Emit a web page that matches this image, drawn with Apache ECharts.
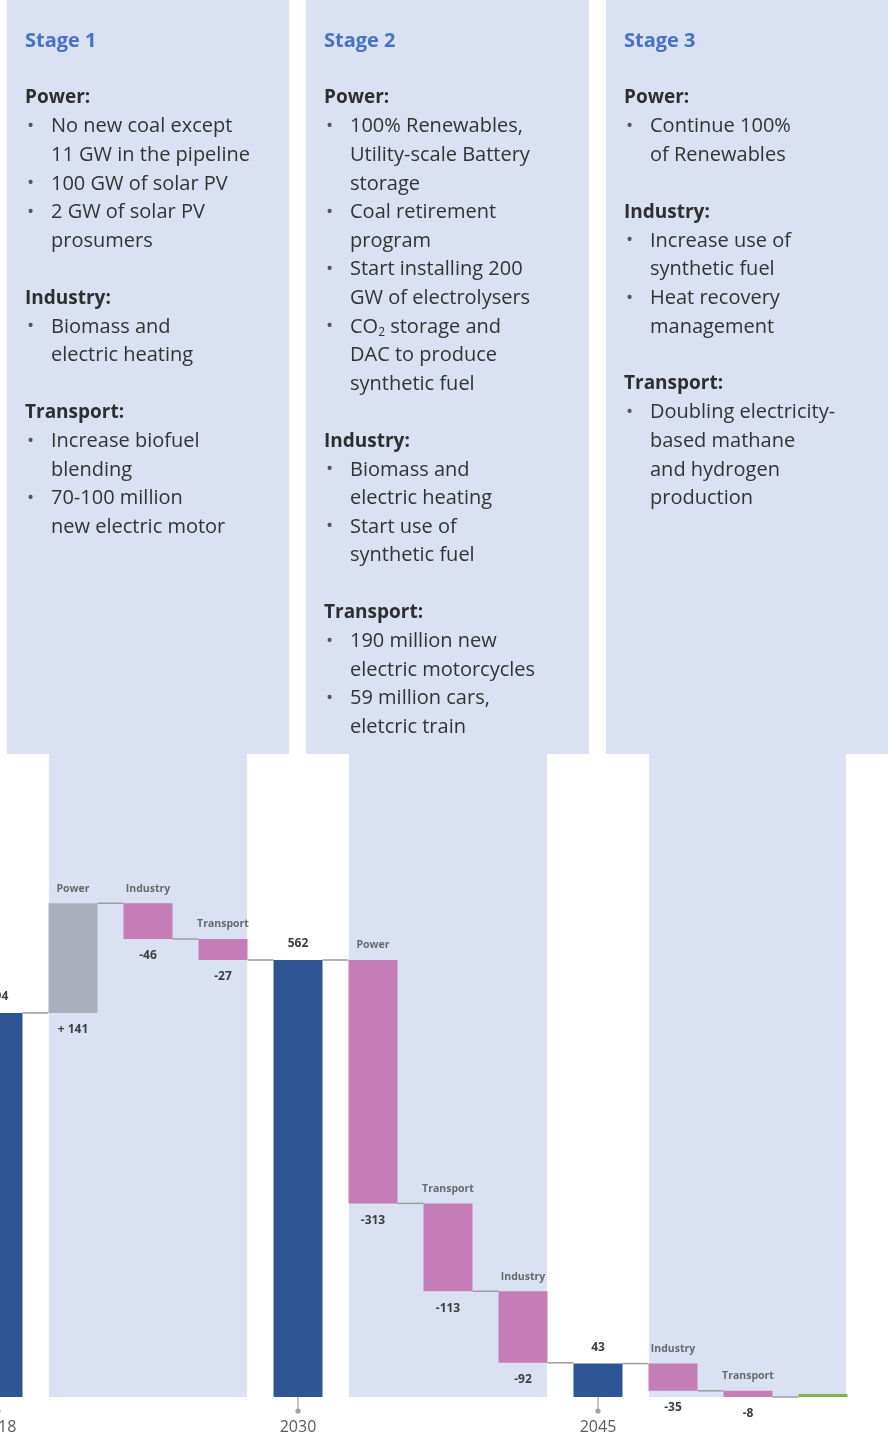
<!DOCTYPE html>
<html>
<head>
<meta charset="utf-8">
<script src="https://cdn.jsdelivr.net/npm/echarts@6/dist/echarts.min.js"></script>
<style>
  html, body { margin: 0; padding: 0; background: #ffffff; overflow: hidden; width: 889px; height: 1442px; position: relative; }
  /* the first column is cut by the left page edge, so the canvas starts left of the page */
  #chart { position: absolute; left: -40px; top: 0; width: 929px; height: 1442px; }
</style>
</head>
<body>
<div id="chart"></div>
<script>
// Emission pathway steps (waterfall): totals reset the running level, deltas move it.
const categories = ['2018', 'Power', 'Industry', 'Transport', '2030', 'Power', 'Transport', 'Industry', '2045', 'Industry', 'Transport', ''];
const stepKinds  = ['total', 'delta', 'delta', 'delta', 'total', 'delta', 'delta', 'delta', 'total', 'delta', 'delta', 'end'];
const stepValues = [494, 141, -46, -27, 562, -313, -113, -92, 43, -35, -8, 0];

// Stage descriptions: [kind, text]; kind 'h' = heading, 'b' = bullet, 'c' = continuation, '' = blank line
const stageTitles = ['Stage 1', 'Stage 2', 'Stage 3'];
const stage1Lines = [
  ['h', 'Power:'], ['b', 'No new coal except'], ['c', '11 GW in the pipeline'], ['b', '100 GW of solar PV'],
  ['b', '2 GW of solar PV'], ['c', 'prosumers'], ['', ''],
  ['h', 'Industry:'], ['b', 'Biomass and'], ['c', 'electric heating'], ['', ''],
  ['h', 'Transport:'], ['b', 'Increase biofuel'], ['c', 'blending'], ['b', '70-100 million'], ['c', 'new electric motor']
];
const stage2Lines = [
  ['h', 'Power:'], ['b', '100% Renewables,'], ['c', 'Utility-scale Battery'], ['c', 'storage'],
  ['b', 'Coal retirement'], ['c', 'program'], ['b', 'Start installing 200'], ['c', 'GW of electrolysers'],
  ['b', 'CO{sub|2} storage and'], ['c', 'DAC to produce'], ['c', 'synthetic fuel'], ['', ''],
  ['h', 'Industry:'], ['b', 'Biomass and'], ['c', 'electric heating'], ['b', 'Start use of'], ['c', 'synthetic fuel'], ['', ''],
  ['h', 'Transport:'], ['b', '190 million new'], ['c', 'electric motorcycles'], ['b', '59 million cars,'], ['c', 'eletcric train']
];
const stage3Lines = [
  ['h', 'Power:'], ['b', 'Continue 100%'], ['c', 'of Renewables'], ['', ''],
  ['h', 'Industry:'], ['b', 'Increase use of'], ['c', 'synthetic fuel'], ['b', 'Heat recovery'], ['c', 'management'], ['', ''],
  ['h', 'Transport:'], ['b', 'Doubling electricity-'], ['c', 'based mathane'], ['c', 'and hydrogen'], ['c', 'production']
];

const COLOR_TOTAL = '#2E5593';
const COLOR_UP = '#A9B0BC';
const COLOR_DOWN = '#C47DB6';
const COLOR_END = '#7AB648';
const PANEL = '#D9E1F2';
const BAR_W = 49;
const SHIFT = 40; // canvas x offset relative to the page

// Running levels for the waterfall
const baseVals = [], barVals = [], levelAfter = [], topVals = [];
let level = 0;
stepValues.forEach((v, i) => {
  const k = stepKinds[i];
  if (k === 'total') {
    baseVals.push(0); barVals.push(v); level = v; topVals.push(v);
  } else if (k === 'delta') {
    const start = level, end = level + v;
    baseVals.push(Math.min(start, end)); barVals.push(Math.abs(v)); topVals.push(Math.max(start, end)); level = end;
  } else {
    baseVals.push(0); barVals.push(0); topVals.push(0); level = 0;
  }
  levelAfter.push(level);
});

const barData = barVals.map((h, i) => {
  const k = stepKinds[i], v = stepValues[i];
  let color = COLOR_TOTAL;
  if (k === 'delta') color = v >= 0 ? COLOR_UP : COLOR_DOWN;
  const item = { value: h, itemStyle: { color: color } };
  if (k === 'total') {
    item.label = { show: true, position: 'top', distance: 10, formatter: String(v) };
  } else if (k === 'delta') {
    item.label = { show: true, position: 'bottom', distance: 11, formatter: v >= 0 ? '+ ' + v : '-' + Math.abs(v) };
  } else {
    item.label = { show: false };
  }
  return item;
});

// Step names sit just above each delta bar
const nameData = [];
categories.forEach((c, i) => {
  if (stepKinds[i] === 'delta') nameData.push({ value: [i, topVals[i]], name: c });
});

// Connector / tick / end-marker data
const linkData = categories.map((c, i) => [i, levelAfter[i], stepKinds[i] === 'total' ? 1 : 0, stepKinds[i] === 'end' ? 1 : 0]);

// Panel graphics (page coordinates, shifted into canvas coordinates)
const graphics = [];
const topPanels = [[7, 289], [306, 589], [606, 888]];
const lowPanels = [[49, 247], [349, 547], [649, 846]];
topPanels.forEach(p => graphics.push({ type: 'rect', z: 0, shape: { x: p[0] + SHIFT, y: 0, width: p[1] - p[0], height: 754 }, style: { fill: PANEL } }));
lowPanels.forEach(p => graphics.push({ type: 'rect', z: 0, shape: { x: p[0] + SHIFT, y: 750, width: p[1] - p[0], height: 647 }, style: { fill: PANEL } }));

const TEXT_FONT = '"Open Sans", "DejaVu Sans", sans-serif';
const stageBlocks = [stage1Lines, stage2Lines, stage3Lines];
stageBlocks.forEach((lines, s) => {
  const x0 = topPanels[s][0] + SHIFT;
  graphics.push({
    type: 'text', z: 1,
    style: { x: x0 + 18, y: 41, text: stageTitles[s], fill: '#4672C4', font: 'bold 20px ' + TEXT_FONT, verticalAlign: 'middle' }
  });
  lines.forEach((ln, k) => {
    const y = 98 + k * 28.6;
    const kind = ln[0], txt = ln[1];
    if (!kind) return;
    if (kind === 'h') {
      graphics.push({ type: 'text', z: 1, style: { x: x0 + 18, y: y, text: txt, fill: '#2E2E2E', font: 'bold 19px ' + TEXT_FONT, verticalAlign: 'middle' } });
      return;
    }
    if (kind === 'b') {
      graphics.push({ type: 'text', z: 1, style: { x: x0 + 20, y: y, text: '•', fill: '#555555', font: '19px ' + TEXT_FONT, verticalAlign: 'middle' } });
    }
    graphics.push({
      type: 'text', z: 1,
      style: {
        x: x0 + 44, y: y, text: txt, fill: '#333333', font: '20px ' + TEXT_FONT, verticalAlign: 'middle',
        rich: { sub: { fontSize: 12, fill: '#333333', padding: [12, 0, 0, 0], fontFamily: TEXT_FONT } }
      }
    });
  });
});

const chart = echarts.init(document.getElementById('chart'), null, { renderer: 'canvas' });
chart.setOption({
  animation: false,
  backgroundColor: '#ffffff',
  graphic: { elements: graphics },
  grid: { left: 0.5, right: 28.5, top: 852.7, bottom: 45, containLabel: false },
  xAxis: {
    type: 'category',
    data: categories,
    axisLine: { show: false },
    axisTick: { show: false },
    axisLabel: {
      interval: (idx) => stepKinds[idx] === 'total',
      margin: 22,
      color: '#5A5A5A',
      fontSize: 16,
      fontFamily: TEXT_FONT
    }
  },
  yAxis: {
    type: 'value', min: 0, max: 700,
    show: false,
    splitLine: { show: false }
  },
  series: [
    {
      type: 'custom',
      z: 1,
      silent: true,
      clip: false,
      data: linkData,
      renderItem: (params, api) => {
        const i = api.value(0), lvl = api.value(1);
        const isTotal = api.value(2) === 1, isEnd = api.value(3) === 1;
        const p = api.coord([i, lvl]);
        const children = [];
        if (i < categories.length - 1) {
          const q = api.coord([i + 1, lvl]);
          children.push({ type: 'line', shape: { x1: p[0] + BAR_W / 2, y1: p[1], x2: q[0] - BAR_W / 2, y2: p[1] }, style: { stroke: '#9C9C9C', lineWidth: 1.5 } });
        }
        if (isTotal) {
          const b = api.coord([i, 0]);
          children.push({ type: 'line', shape: { x1: b[0], y1: b[1], x2: b[0], y2: b[1] + 12 }, style: { stroke: '#A0A0A0', lineWidth: 1.2 } });
          children.push({ type: 'circle', shape: { cx: b[0], cy: b[1] + 14, r: 2.6 }, style: { fill: '#A0A0A0' } });
        }
        if (isEnd) {
          children.push({ type: 'rect', shape: { x: p[0] - BAR_W / 2, y: p[1] - 3, width: BAR_W, height: 3 }, style: { fill: COLOR_END } });
        }
        return { type: 'group', children: children };
      }
    },
    {
      name: 'base',
      type: 'bar',
      stack: 'wf',
      barWidth: BAR_W,
      silent: true,
      itemStyle: { color: 'rgba(0,0,0,0)' },
      data: baseVals
    },
    {
      name: 'step',
      type: 'bar',
      stack: 'wf',
      barWidth: BAR_W,
      z: 3,
      label: {
        color: '#3E3E3E',
        fontSize: 12,
        fontWeight: 'bold',
        fontFamily: TEXT_FONT
      },
      data: barData
    },
    {
      name: 'names',
      type: 'scatter',
      symbolSize: 0,
      z: 4,
      silent: true,
      data: nameData,
      label: {
        show: true,
        position: 'top',
        distance: 9,
        formatter: (p) => p.name,
        color: '#4A4A4A',
        fontSize: 10.5,
        fontWeight: 'bold',
        fontFamily: TEXT_FONT
      }
    }
  ]
});
</script>
</body>
</html>
